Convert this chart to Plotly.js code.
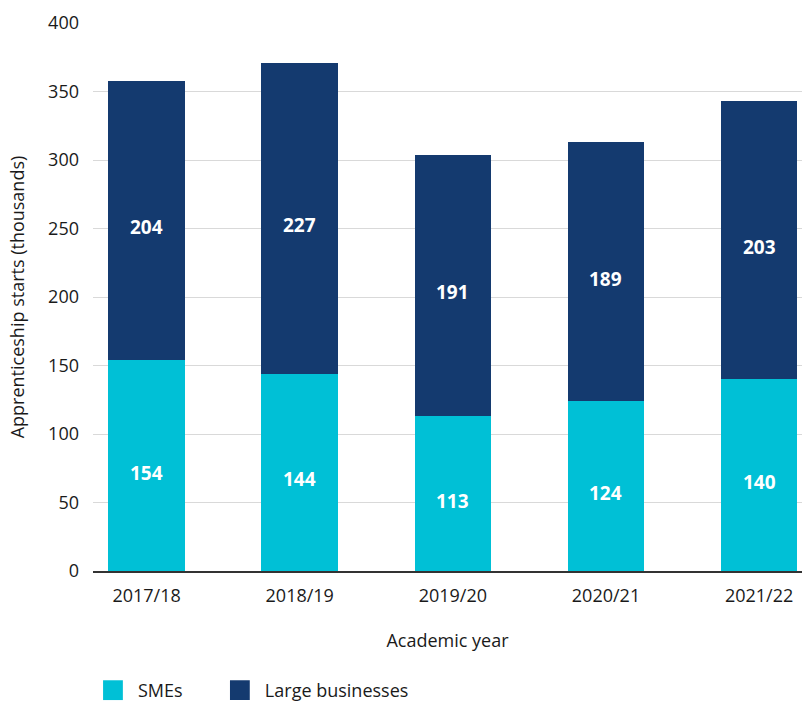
<!DOCTYPE html>
<html>
<head>
<meta charset="utf-8">
<script src="https://cdn.plot.ly/plotly-3.0.1.min.js"></script>
<style>html,body{margin:0;padding:0;background:#fff;}#chart{width:802px;height:707px;}</style>
</head>
<body>
<div id="chart"></div>
<script>
const years = ["2017/18", "2018/19", "2019/20", "2020/21", "2021/22"];
const smes = [154, 144, 113, 124, 140];
const large = [204, 227, 191, 189, 203];
const yTicks = [0, 50, 100, 150, 200, 250, 300, 350, 400];

const font = "'Open Sans', 'Noto Sans', sans-serif";
const labelFont = {color: "#ffffff", size: 19, family: font, weight: 700};

const traces = [
  {
    type: "bar", name: "SMEs", x: years, y: smes,
    marker: {color: "#00C0D6"}, width: 0.5,
    hoverinfo: "none", legend: "legend"
  },
  {
    type: "bar", name: "Large businesses", x: years, y: large,
    marker: {color: "#143A6F"}, width: 0.5,
    hoverinfo: "none", legend: "legend2"
  }
];

// value labels placed at each segment's middle through the data axes
const annotations = [];
years.forEach(function (yr, i) {
  annotations.push({x: yr, y: smes[i] / 2, text: String(smes[i]), showarrow: false,
                    yshift: -7, font: labelFont, xref: "x", yref: "y"});
  annotations.push({x: yr, y: smes[i] + large[i] / 2, text: String(large[i]), showarrow: false,
                    yshift: -7, font: labelFont, xref: "x", yref: "y"});
});

const legendBase = {orientation: "h", xanchor: "left", y: -0.218, yanchor: "middle",
                    font: {size: 18, color: "#1a1a1a"}, bgcolor: "rgba(0,0,0,0)"};
const layout = {
  width: 802, height: 707,
  margin: {l: 93, r: 0, t: 23, b: 136, autoexpand: false},
  barmode: "stack",
  paper_bgcolor: "#fff", plot_bgcolor: "#fff",
  font: {family: font, color: "#1a1a1a", size: 18},
  showlegend: true,
  legend: Object.assign({}, legendBase, {x: 0.007}),
  legend2: Object.assign({}, legendBase, {x: 0.186}),
  annotations: annotations,
  xaxis: {
    type: "category", range: [-0.35, 4.28],
    title: {text: "Academic year", font: {size: 18}, standoff: 29},
    showgrid: false, ticks: "", ticklabelstandoff: 7,
    showline: true, linecolor: "#333", linewidth: 2, zeroline: false,
    tickfont: {size: 18}
  },
  yaxis: {
    range: [0, 400], tickvals: yTicks, ticktext: yTicks.map(String),
    title: {text: "Apprenticeship starts (thousands)", font: {size: 18}, standoff: 18},
    showgrid: true, gridcolor: "#d9d9d9", gridwidth: 1,
    zeroline: false, showline: false, ticks: "", ticklabelstandoff: 13,
    tickfont: {size: 18}
  }
};
Plotly.newPlot("chart", traces, layout, {displayModeBar: false, staticPlot: true}).then(function (gd) {
  // enlarge legend swatches to match the reference's bigger squares
  gd.querySelectorAll(".legendpoints path").forEach(function (p) {
    const t = p.getAttribute("transform") || "";
    p.setAttribute("transform", t + " translate(-5,0) scale(1.65)");
  });
});
</script>
</body>
</html>
